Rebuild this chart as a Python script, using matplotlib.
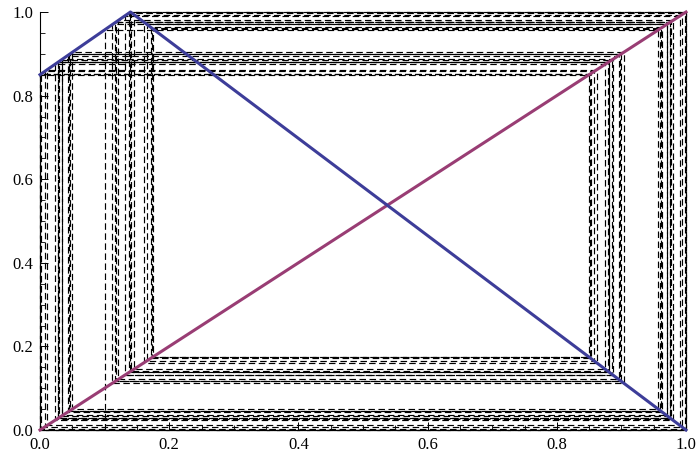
import matplotlib.pyplot as plt
from matplotlib.ticker import MultipleLocator

# Piecewise-linear map: f(0) = 0.85, peak at (0.14, 1.0), f(1) = 0
map_x = [0.0, 0.14, 1.0]
map_y = [0.85, 1.0, 0.0]

# Diagonal y = x
diag_x = [0.0, 1.0]
diag_y = [0.0, 1.0]

# Orbit iterates used for the cobweb (starting value 0.1)
orbit = [0.1000, 0.9571, 0.0499, 0.9035, 0.1122, 0.9702, 0.0347, 0.8872,
         0.1312, 0.9906, 0.0109, 0.8617, 0.1608, 0.9758, 0.0281, 0.8801,
         0.1394, 0.9994, 0.0007, 0.8508, 0.1735, 0.9610, 0.0453, 0.8985,
         0.1180, 0.9764, 0.0274, 0.8794, 0.1402, 0.9998, 0.0002, 0.8502,
         0.1742, 0.9602, 0.0463, 0.8996, 0.1167, 0.9750, 0.0291, 0.8812,
         0.1381, 0.9980, 0.0023, 0.8525, 0.1715, 0.9634, 0.0426, 0.8956,
         0.1214, 0.9801, 0.0231, 0.8748, 0.1456, 0.9935, 0.0076, 0.8581,
         0.1650, 0.9709, 0.0338, 0.8862, 0.1323]

plt.rcParams['font.family'] = ['Liberation Serif', 'DejaVu Serif']

fig = plt.figure(figsize=(6.97, 4.58), dpi=100)
ax = fig.add_axes([40 / 697, 28 / 458, 646 / 697, 418 / 458])

# Cobweb path: up from the axis, then alternate vertical / horizontal steps
px = [orbit[0]]
py = [0.0]
for a, b in zip(orbit[:-1], orbit[1:]):
    px += [a, b]
    py += [b, b]
ax.plot(px, py, color='black', lw=0.85, dashes=(5.5, 3), clip_on=False, zorder=2)

ax.plot(diag_x, diag_y, color='#993d74', lw=2.2, clip_on=False, zorder=3)
ax.plot(map_x, map_y, color='#3d3d99', lw=2.2, clip_on=False, zorder=4)

ax.set_xlim(0, 1)
ax.set_ylim(0, 1)
for side in ['top', 'right']:
    ax.spines[side].set_visible(False)
for side in ['left', 'bottom']:
    ax.spines[side].set_linewidth(0.8)

ax.xaxis.set_major_locator(MultipleLocator(0.2))
ax.xaxis.set_minor_locator(MultipleLocator(0.05))
ax.yaxis.set_major_locator(MultipleLocator(0.2))
ax.yaxis.set_minor_locator(MultipleLocator(0.05))
ax.xaxis.set_major_formatter(lambda v, p: f'{v:.1f}')
ax.yaxis.set_major_formatter(lambda v, p: f'{v:.1f}')
ax.tick_params(which='major', direction='in', length=6, width=0.7, labelsize=12, pad=5)
ax.tick_params(which='minor', direction='in', length=3.5, width=0.6)

fig.savefig('out.png', dpi=100)
